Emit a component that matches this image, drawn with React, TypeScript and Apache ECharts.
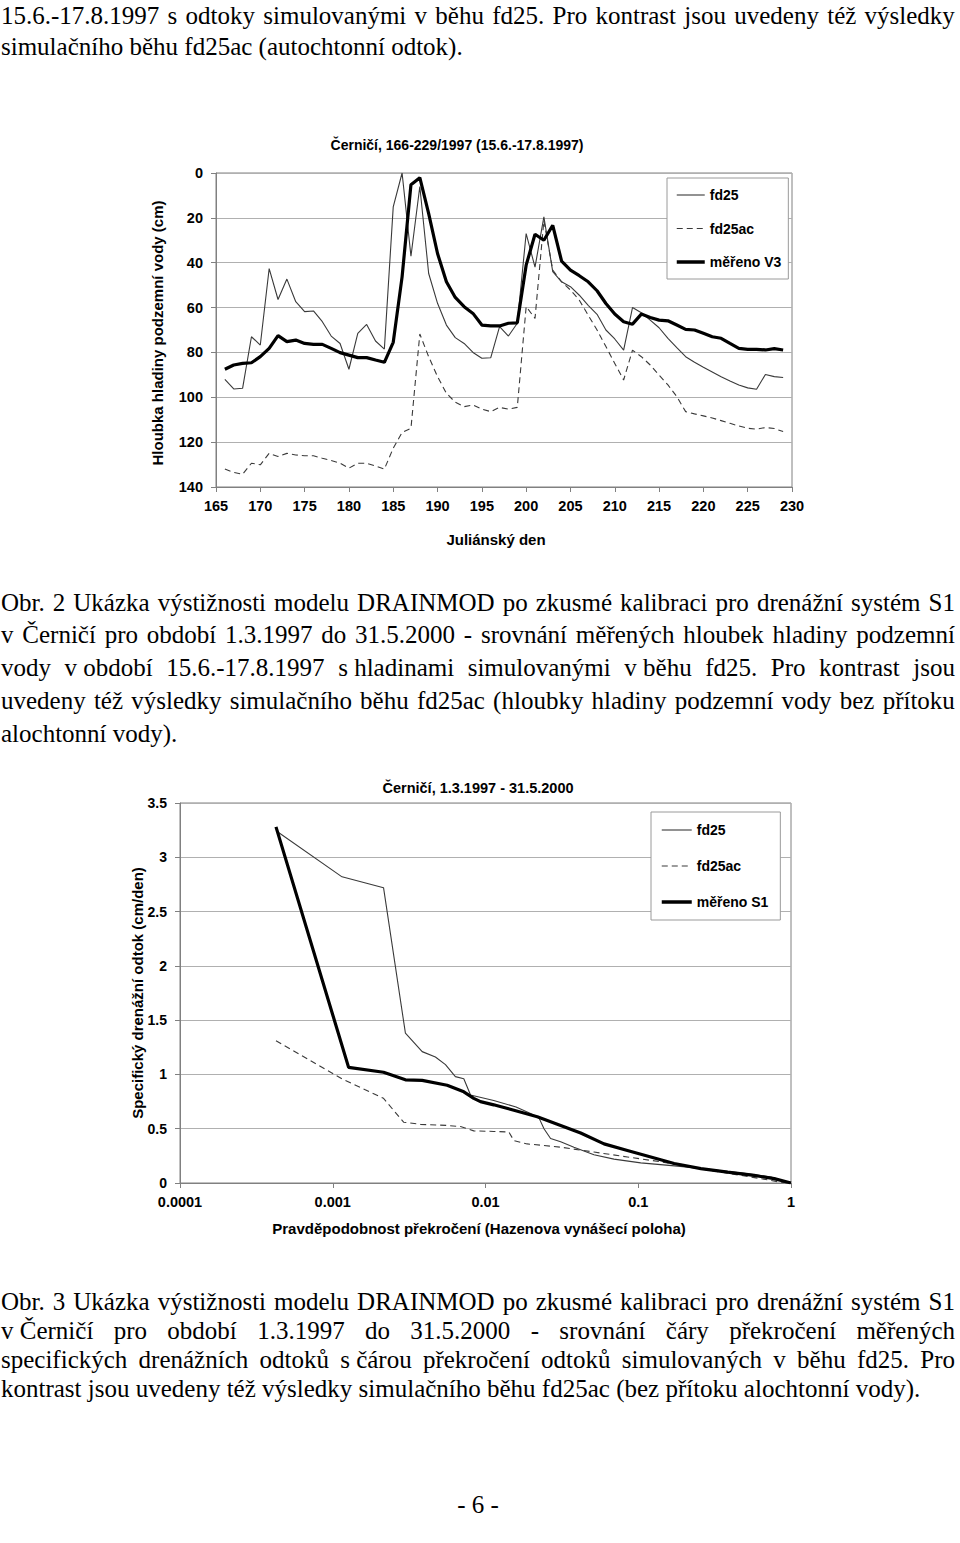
import React, { useEffect, useRef } from "react";
import * as echarts from "echarts";

// ---------- Chart 1 data (Julian day vs groundwater depth, cm) ----------
const DAYS = [166, 167, 168, 169, 170, 171, 172, 173, 174, 175, 176, 177, 178, 179, 180, 181, 182, 183, 184, 185, 186, 187, 188, 189, 190, 191, 192, 193, 194, 195, 196, 197, 198, 199, 200, 201, 202, 203, 204, 205, 206, 207, 208, 209, 210, 211, 212, 213, 214, 215, 216, 217, 218, 219, 220, 221, 222, 223, 224, 225, 226, 227, 228, 229];
const FD25_DEPTH = [92, 96.3, 96, 73, 76.7, 42.6, 56.4, 47.3, 57.4, 61.8, 61.5, 66.3, 72.7, 76, 87.5, 71.5, 67.5, 74.9, 78.5, 15.1, 0, 37.1, 6, 44.8, 58.1, 67.8, 73.4, 76, 80, 82.6, 82.4, 68.5, 72.7, 67, 27, 42, 19.5, 44, 48.5, 50.7, 54.5, 59, 63, 70, 74, 79, 60, 62.3, 65.6, 69, 73.7, 77.9, 81.9, 84.4, 86.6, 88.7, 90.8, 92.7, 94.5, 95.8, 96.4, 89.8, 90.8, 91.2];
const FD25AC_DEPTH = [132, 133.5, 134.3, 129.4, 130.1, 125, 126.4, 125, 125.7, 126.1, 126.1, 127.2, 128.2, 129.4, 131.6, 129.4, 129.4, 130.6, 132, 122.7, 115.7, 113.8, 71.8, 81.9, 90.8, 98.2, 102.2, 104.2, 103.4, 105.3, 106.4, 104.5, 105.3, 104.5, 59.6, 64.8, 21.2, 43.3, 48.5, 52.2, 56.7, 63.4, 70, 77.4, 84.9, 92.3, 79, 81.9, 85.6, 90.1, 94.5, 99.7, 106.4, 107.4, 108.3, 109.2, 110.4, 111.6, 112.8, 113.8, 114.2, 113.5, 113.9, 115.3];
const MERENO_V3_DEPTH = [87.5, 85.6, 84.9, 84.6, 81.9, 78.2, 72.5, 75.2, 74.5, 76, 76.4, 76.4, 78.2, 80.1, 81.2, 82.3, 82.3, 83.4, 84.4, 75.5, 46.3, 5.2, 2.1, 18.1, 35.9, 48.5, 55.5, 59.6, 62.6, 67.8, 68.2, 68.2, 67, 66.8, 41.1, 27.3, 30, 23.3, 39.3, 43.3, 45.8, 48.5, 52.5, 58.2, 62.9, 66.3, 67.4, 62.9, 64.4, 65.6, 65.9, 67.8, 69.7, 70, 71.5, 73, 73.7, 76, 78.2, 78.6, 78.6, 78.9, 78.3, 78.9];

// ---------- Chart 2 data (exceedance probability vs specific drain outflow, cm/den) ----------
const P_MERENO_S1 = [0.000425, 0.00127, 0.00215, 0.00299, 0.00385, 0.00561, 0.00721, 0.00838, 0.00927, 0.01132, 0.01535, 0.02183, 0.03105, 0.04198, 0.0597, 0.08492, 0.1208, 0.1718, 0.257, 0.3846, 0.5741, 0.7762, 0.9996];
const Q_MERENO_S1 = [3.28, 1.065, 1.02, 0.95, 0.945, 0.9, 0.84, 0.78, 0.75, 0.72, 0.67, 0.61, 0.53, 0.46, 0.36, 0.3, 0.24, 0.18, 0.133, 0.1, 0.07, 0.04, 0.0];
const P_FD25 = [0.00043, 0.00115, 0.00215, 0.00299, 0.00385, 0.0047, 0.00547, 0.00635, 0.00721, 0.00798, 0.01132, 0.01585, 0.01972, 0.02239, 0.02415, 0.02667, 0.03105, 0.03793, 0.05129, 0.06934, 0.1038, 0.1807, 0.2985, 0.4943, 0.7396, 0.9996];
const Q_FD25 = [3.24, 2.82, 2.72, 1.38, 1.21, 1.16, 1.09, 0.98, 0.96, 0.81, 0.76, 0.7, 0.64, 0.6, 0.5, 0.41, 0.38, 0.33, 0.26, 0.22, 0.185, 0.155, 0.125, 0.09, 0.055, 0.0];
const P_FD25AC = [0.000425, 0.00115, 0.00215, 0.00291, 0.00375, 0.00561, 0.00686, 0.00838, 0.01132, 0.01422, 0.01535, 0.01875, 0.03105, 0.05129, 0.08492, 0.1406, 0.2323, 0.3846, 0.6353, 0.8318, 0.9996];
const Q_FD25AC = [1.31, 0.96, 0.78, 0.56, 0.54, 0.53, 0.52, 0.48, 0.475, 0.47, 0.39, 0.36, 0.33, 0.285, 0.24, 0.195, 0.14, 0.09, 0.04, 0.01, 0.0];

// ---------- Tick labels / texts ----------
const LOG_TICK_LABELS = ["0.0001", "0.001", "0.01", "0.1", "1"];
const LEGEND_1 = ["fd25", "fd25ac", "měřeno V3"];
const LEGEND_2 = ["fd25", "fd25ac", "měřeno S1"];
const TITLE_1 = "Černičí, 166-229/1997 (15.6.-17.8.1997)";
const TITLE_2 = "Černičí, 1.3.1997 - 31.5.2000";
const YNAME_1 = "Hloubka hladiny podzemní vody (cm)";
const XNAME_1 = "Juliánský den";
const YNAME_2 = "Specifický drenážní odtok (cm/den)";
const XNAME_2 = "Pravděpodobnost překročení (Hazenova vynášecí poloha)";

const NB = "\u00a0";
const TOP_LINES = [
  { t: "15.6.-17.8.1997 s odtoky simulovanými v běhu fd25. Pro kontrast jsou uvedeny též výsledky", j: true },
  { t: "simulačního běhu fd25ac (autochtonní odtok).", j: false },
];
const CAPTION_2 = [
  { t: "Obr. 2 Ukázka výstižnosti modelu DRAINMOD po zkusmé kalibraci pro drenážní systém S1", j: true },
  { t: "v Černičí pro období 1.3.1997 do 31.5.2000 - srovnání měřených hloubek hladiny podzemní", j: true },
  { t: `vody v${NB}období 15.6.-17.8.1997 s${NB}hladinami simulovanými v${NB}běhu fd25. Pro kontrast jsou`, j: true },
  { t: "uvedeny též výsledky simulačního běhu fd25ac (hloubky hladiny podzemní vody bez přítoku", j: true },
  { t: "alochtonní vody).", j: false },
];
const CAPTION_3 = [
  { t: "Obr. 3 Ukázka výstižnosti modelu DRAINMOD po zkusmé kalibraci pro drenážní systém S1", j: true },
  { t: `v${NB}Černičí pro období 1.3.1997 do 31.5.2000 - srovnání čáry překročení měřených`, j: true },
  { t: `specifických drenážních odtoků s${NB}čárou překročení odtoků simulovaných v běhu fd25. Pro`, j: true },
  { t: "kontrast jsou uvedeny též výsledky simulačního běhu fd25ac (bez přítoku alochtonní vody).", j: false },
];
const PAGE_NUMBER = "- 6 -";

const SANS = "'Liberation Sans', Arial, sans-serif";
const SERIF = "'Liberation Serif', 'Times New Roman', serif";
const FS = 25; // body font size
// x-height centre -> top for line box with lineHeight = FS
const topFor = (xc: number) => xc - 13.3;

function Line({ t, j, xc }: { t: string; j: boolean; xc: number }) {
  const base: React.CSSProperties = {
    position: "absolute",
    left: 1,
    width: 954,
    top: topFor(xc),
    height: FS,
    lineHeight: FS + "px",
    fontSize: FS,
    fontFamily: SERIF,
    color: "#000",
    whiteSpace: "nowrap",
  };
  if (!j) return <div style={base}>{t}</div>;
  const words = t.split(" ");
  return (
    <div style={{ ...base, display: "flex", justifyContent: "space-between" }}>
      {words.map((w, i) => (
        <span key={i}>{w}</span>
      ))}
    </div>
  );
}

export default function App() {
  const ref = useRef<HTMLDivElement>(null);

  useEffect(() => {
    if (!ref.current) return;
    const chart = echarts.init(ref.current, undefined, { renderer: "svg" });
    const axisGray = "#808080";
    const gridGray = "#b0b0b0";
    const tickLabel = { fontFamily: SANS, fontWeight: "bold" as const, fontSize: 14.5, color: "#000" };
    const txt = (text: string, x: number, y: number, rot = 0, size = 15) => ({
      type: "text",
      x,
      y,
      rotation: rot,
      silent: true,
      style: {
        text,
        fill: "#000",
        font: `bold ${size}px ${SANS}`,
        align: "center",
        verticalAlign: "middle",
      },
    });
    const thin = { color: "#3a3a3a", width: 1.1 };
    const dashed = { color: "#3a3a3a", width: 1.1, type: [6, 4] };
    const thick = { color: "#000", width: 3.2 };
    const legendCommon = {
      orient: "vertical",
      itemHeight: 14,
      borderColor: "#9a9a9a",
      borderWidth: 1,
      backgroundColor: "#fff",
      selectedMode: false,
      itemStyle: { opacity: 0 },
      textStyle: { fontFamily: SANS, fontWeight: "bold", fontSize: 14, color: "#000" },
    };
    const legendData = (names: string[]) => [
      { name: names[0], lineStyle: { ...thin } },
      { name: names[1], lineStyle: { ...dashed } },
      { name: names[2], lineStyle: { ...thick, width: 3.5 } },
    ];

    chart.setOption({
      animation: false,
      grid: [
        { left: 216, top: 173, width: 576, height: 314, show: true, borderColor: axisGray, borderWidth: 1, backgroundColor: "transparent" },
        { left: 180, top: 803, width: 611, height: 380, show: true, borderColor: axisGray, borderWidth: 1, backgroundColor: "transparent" },
      ],
      xAxis: [
        {
          type: "value",
          gridIndex: 0,
          min: 165,
          max: 230,
          interval: 5,
          axisLine: { show: true, onZero: false, lineStyle: { color: axisGray } },
          axisTick: { show: true, length: 5, lineStyle: { color: axisGray } },
          axisLabel: { ...tickLabel, margin: 11 },
          splitLine: { show: false },
        },
        {
          type: "log",
          gridIndex: 1,
          logBase: 10,
          min: 0.0001,
          max: 1,
          axisLine: { show: true, onZero: false, lineStyle: { color: axisGray } },
          axisTick: { show: true, length: 5, lineStyle: { color: axisGray } },
          minorTick: { show: false },
          axisLabel: {
            ...tickLabel,
            margin: 11,
            formatter: (v: number) => LOG_TICK_LABELS[Math.round(Math.log10(v)) + 4] ?? "",
          },
          splitLine: { show: false },
        },
      ],
      yAxis: [
        {
          type: "value",
          gridIndex: 0,
          inverse: true,
          min: 0,
          max: 140,
          interval: 20,
          axisLine: { show: true, lineStyle: { color: axisGray } },
          axisTick: { show: true, length: 5, lineStyle: { color: axisGray } },
          axisLabel: { ...tickLabel, margin: 13 },
          splitLine: { show: true, lineStyle: { color: gridGray, width: 1 } },
        },
        {
          type: "value",
          gridIndex: 1,
          min: 0,
          max: 3.5,
          interval: 0.5,
          axisLine: { show: true, lineStyle: { color: axisGray } },
          axisTick: { show: true, length: 5, lineStyle: { color: axisGray } },
          axisLabel: { ...tickLabel, fontSize: 14, margin: 13 },
          splitLine: { show: true, lineStyle: { color: gridGray, width: 1 } },
        },
      ],
      legend: [
        { ...legendCommon, data: legendData(LEGEND_1), left: 667, top: 178, itemWidth: 28, itemGap: 19.5, padding: [10, 7, 10, 8] },
        { ...legendCommon, data: legendData(LEGEND_2), left: 651, top: 812, itemWidth: 30, itemGap: 22, padding: [11, 12, 11, 9] },
      ],
      series: [
        { type: "line", name: LEGEND_1[0], xAxisIndex: 0, yAxisIndex: 0, symbol: "none", lineStyle: thin, itemStyle: { color: thin.color }, data: DAYS.map((d, i) => [d, FD25_DEPTH[i]]) },
        { type: "line", name: LEGEND_1[1], xAxisIndex: 0, yAxisIndex: 0, symbol: "none", lineStyle: dashed, itemStyle: { color: dashed.color }, data: DAYS.map((d, i) => [d, FD25AC_DEPTH[i]]) },
        { type: "line", name: LEGEND_1[2], xAxisIndex: 0, yAxisIndex: 0, symbol: "none", lineStyle: thick, itemStyle: { color: thick.color }, data: DAYS.map((d, i) => [d, MERENO_V3_DEPTH[i]]) },
        { type: "line", name: LEGEND_2[0], xAxisIndex: 1, yAxisIndex: 1, symbol: "none", lineStyle: thin, itemStyle: { color: thin.color }, data: P_FD25.map((p, i) => [p, Q_FD25[i]]) },
        { type: "line", name: LEGEND_2[1], xAxisIndex: 1, yAxisIndex: 1, symbol: "none", lineStyle: dashed, itemStyle: { color: dashed.color }, data: P_FD25AC.map((p, i) => [p, Q_FD25AC[i]]) },
        { type: "line", name: LEGEND_2[2], xAxisIndex: 1, yAxisIndex: 1, symbol: "none", lineStyle: thick, itemStyle: { color: thick.color }, data: P_MERENO_S1.map((p, i) => [p, Q_MERENO_S1[i]]) },
      ],
      graphic: [
        txt(TITLE_1, 457, 145, 0, 14),
        txt(YNAME_1, 157, 333, Math.PI / 2),
        txt(XNAME_1, 496, 539),
        txt(TITLE_2, 478, 788, 0, 14.5),
        txt(YNAME_2, 137, 993, Math.PI / 2),
        txt(XNAME_2, 479, 1228),
      ],
    });
    return () => chart.dispose();
  }, []);

  const cap2Y = [603, 635.75, 668.5, 701.25, 734];
  const cap3Y = [1302, 1331, 1360, 1389];
  return (
    <div style={{ position: "absolute", left: 0, top: 0, width: 960, height: 1543, background: "#fff", overflow: "hidden" }}>
      {TOP_LINES.map((l, i) => (
        <Line key={"t" + i} t={l.t} j={l.j} xc={[16, 47][i]} />
      ))}
      {CAPTION_2.map((l, i) => (
        <Line key={"c2" + i} t={l.t} j={l.j} xc={cap2Y[i]} />
      ))}
      {CAPTION_3.map((l, i) => (
        <Line key={"c3" + i} t={l.t} j={l.j} xc={cap3Y[i]} />
      ))}
      <div
        style={{
          position: "absolute",
          left: 0,
          width: 956,
          top: topFor(1505),
          textAlign: "center",
          fontFamily: SERIF,
          fontSize: FS,
          lineHeight: FS + "px",
        }}
      >
        {PAGE_NUMBER}
      </div>
      <div ref={ref} style={{ position: "absolute", left: 0, top: 0, width: 960, height: 1543 }} />
    </div>
  );
}
